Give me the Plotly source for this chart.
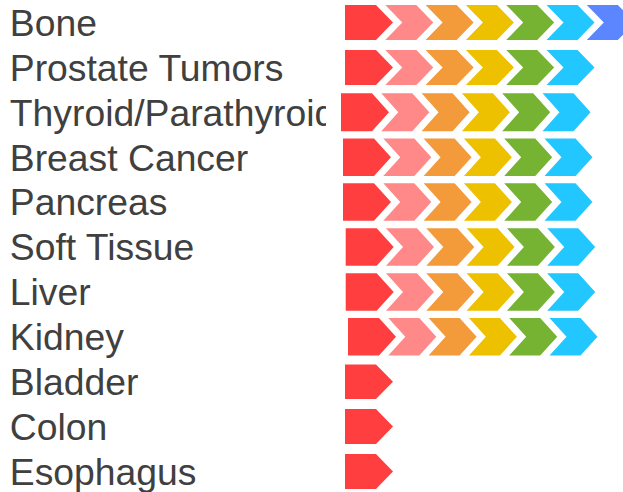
import plotly.graph_objects as go

# ---- data ----
categories = ["Bone", "Prostate Tumors", "Thyroid/Parathyroid", "Breast Cancer",
              "Pancreas", "Soft Tissue", "Liver", "Kidney", "Bladder", "Colon", "Esophagus"]
stages = [7, 6, 6, 6, 6, 6, 6, 6, 1, 1, 1]
stage_colors = ["#FF3F3F", "#FF8888", "#F39A3B", "#EDC000", "#77B333", "#22C7FF", "#5B86FF"]

# ---- style / layout constants (pixels) ----
W, H = 623, 492
ROW_PX = 44.9          # vertical distance between rows
STAGE_PX = 40.3        # horizontal pitch of chevrons
FIRST_ROW_PX = 22.5    # centre of first row
START_PX = 345         # left edge of first chevron
TOTAL_PX = 48          # chevron width from left edge to tip
TIP_PX = 17            # depth of tip / notch
LABEL_CLIP_PX = 326
LABEL_X_PX = 9.8
LABEL_DY_PX = 4
row_h_px = [35, 35, 38, 37.5, 37.5, 37.5, 37.5, 37.5, 34.5, 35, 35]
row_dx_px = [0, 0, -4, -2, -2, 0.7, 0.7, 3, 0, 0, 0]

fig = go.Figure()

w = (TOTAL_PX - TIP_PX) / STAGE_PX
d = TIP_PX / STAGE_PX
for k, col in enumerate(stage_colors):
    xs, ys = [], []
    for i, n in enumerate(stages):
        if n <= k:
            continue
        x0 = k + row_dx_px[i] / STAGE_PX
        hh = row_h_px[i] / 2 / ROW_PX
        yc = i
        pts = [(x0, yc - hh), (x0 + w, yc - hh), (x0 + w + d, yc),
               (x0 + w, yc + hh), (x0, yc + hh)]
        if k > 0:
            pts.append((x0 + d, yc))
        pts.append(pts[0])
        for px, py in pts:
            xs.append(px)
            ys.append(py)
        xs.append(None)
        ys.append(None)
    fig.add_trace(go.Scatter(
        x=xs, y=ys, mode="lines", fill="toself", fillcolor=col,
        line=dict(width=0, color=col), hoverinfo="skip", xaxis="x", yaxis="y"))

fig.add_trace(go.Scatter(
    x=[LABEL_X_PX] * len(categories),
    y=[i + LABEL_DY_PX / ROW_PX for i in range(len(categories))],
    mode="text", text=categories, textposition="middle right",
    textfont=dict(family="Liberation Sans, Arial, sans-serif", size=37.3, color="#404040"),
    cliponaxis=True, hoverinfo="skip", xaxis="x2", yaxis="y"))

x_lo = -START_PX / STAGE_PX
x_hi = (W - START_PX) / STAGE_PX
y_top = -FIRST_ROW_PX / ROW_PX
y_bot = (H - FIRST_ROW_PX) / ROW_PX

fig.update_layout(
    width=W, height=H,
    margin=dict(l=0, r=0, t=0, b=0),
    paper_bgcolor="white", plot_bgcolor="white",
    showlegend=False,
    xaxis=dict(range=[x_lo, x_hi], domain=[0, 1], visible=False, fixedrange=True),
    xaxis2=dict(range=[0, LABEL_CLIP_PX], domain=[0, LABEL_CLIP_PX / W],
                anchor="y", visible=False, fixedrange=True),
    yaxis=dict(range=[y_bot, y_top], domain=[0, 1], visible=False, fixedrange=True),
)

fig.write_html("out.html")
